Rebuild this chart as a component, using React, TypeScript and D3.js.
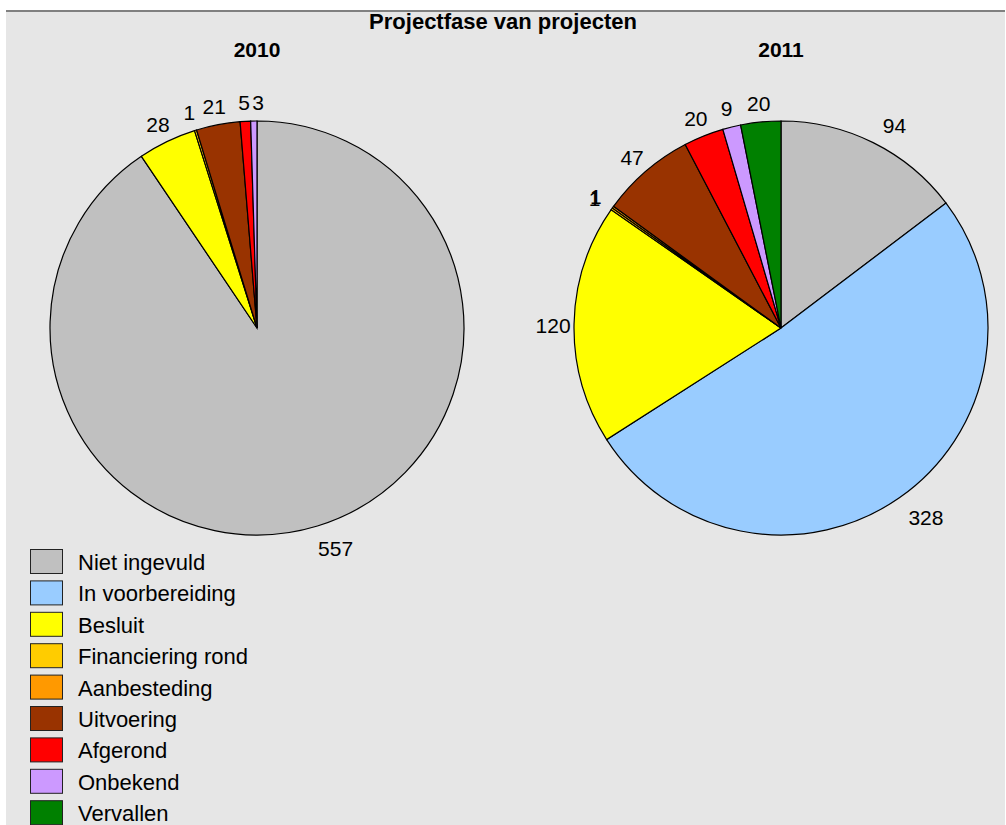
import React from 'react';
import * as d3 from 'd3';

const width = 1006;
const height = 825;

const categories = [
  'Niet ingevuld',
  'In voorbereiding',
  'Besluit',
  'Financiering rond',
  'Aanbesteding',
  'Uitvoering',
  'Afgerond',
  'Onbekend',
  'Vervallen',
];
const colors = ['#c0c0c0', '#99ccff', '#ffff00', '#ffcc00', '#ff9900', '#993300', '#ff0000', '#cc99ff', '#008000'];
const values2010 = [557, 0, 28, 1, 0, 21, 5, 3, 0];
const values2011 = [94, 328, 120, 1, 1, 47, 20, 9, 20];
const years = ['2010', '2011'];

const font = 'Arial, "Liberation Sans", sans-serif';
const radius = 207;
const labelRadius = 228;
const labelSize = 21;

const Pie = ({ values, cx, cy, title }: { values: number[]; cx: number; cy: number; title: string }) => {
  const pie = d3.pie<number>().sort(null).value(d => d);
  const arcs = pie(values).map((a, i) => ({ ...a, i })).filter(a => a.value > 0);
  const arc = d3.arc<d3.PieArcDatum<number>>().innerRadius(0).outerRadius(radius);
  const labelArc = d3.arc<d3.PieArcDatum<number>>().innerRadius(labelRadius).outerRadius(labelRadius);

  // label positions, nudging apart labels that would collide
  let prev: { x: number; w: number; t: string } | null = null;
  const labels = arcs.map(a => {
    let [x, y] = labelArc.centroid(a);
    if (x > 0) x += 12;
    const t = String(a.value);
    const w = t.length * labelSize * 0.56;
    if (prev && prev.t !== t && x - w / 2 < prev.x + prev.w / 2 && Math.abs(x - prev.x) < 30) {
      x = prev.x + prev.w / 2 + 2 + w / 2;
    }
    prev = { x, w, t };
    return { x, y, t, i: a.i };
  });

  return (
    <g>
      <text x={cx} y={57} textAnchor="middle" fontFamily={font} fontWeight="bold" fontSize={21}>{title}</text>
      <g transform={`translate(${cx},${cy})`}>
        {arcs.map(a => (
          <path key={a.i} d={arc(a) || ''} fill={colors[a.i]} stroke="#000" strokeWidth={1.2} />
        ))}
        {labels.map(l => (
          <text key={'l' + l.i} x={l.x} y={l.y + 2} dy="0.36em" textAnchor="middle" fontFamily={font} fontSize={labelSize}>
            {l.t}
          </text>
        ))}
      </g>
    </g>
  );
};

export default function App() {
  const legendY = d3.scaleBand<string>().domain(categories).range([549, 549 + 31.4 * categories.length]);
  return (
    <svg width={width} height={height} style={{ position: 'absolute', left: 0, top: 0 }}>
      <rect x={6} y={10} width={999} height={height} fill="#e6e6e6" />
      <line x1={6} x2={1005} y1={11} y2={11} stroke="#808080" strokeWidth={2} />
      <text x={503} y={29} textAnchor="middle" fontFamily={font} fontWeight="bold" fontSize={22}>Projectfase van projecten</text>
      <Pie values={values2010} cx={257} cy={328} title={years[0]} />
      <Pie values={values2011} cx={781} cy={328} title={years[1]} />
      {categories.map((c, i) => {
        const y = legendY(c) || 0;
        return (
          <g key={c}>
            <rect x={30.5} y={y + 0.5} width={32} height={24} fill={colors[i]} stroke="#222" strokeWidth={1} />
            <text x={78} y={y + 21} fontFamily={font} fontSize={22}>{c}</text>
          </g>
        );
      })}
    </svg>
  );
}
